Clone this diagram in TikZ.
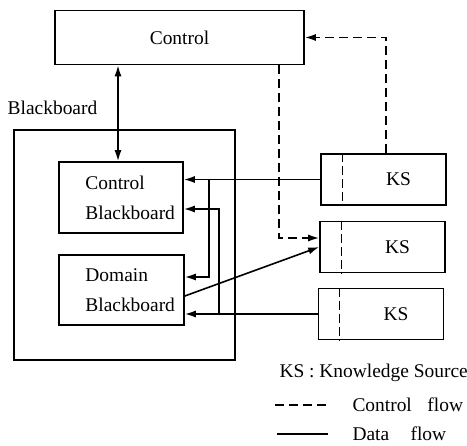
\documentclass[tikz,border=0pt]{standalone}
\usepackage{fontspec}
\setmainfont{Liberation Serif}
\usetikzlibrary{arrows.meta}

\begin{document}
\begin{tikzpicture}[x=1bp, y=-1bp, font=\fontsize{19.5}{30}\selectfont,
    >={Latex[length=11bp, width=7bp]},
    blk/.style={draw, line width=1.6bp, inner sep=0pt},
    data/.style={line width=1.6bp},
    ctrl/.style={line width=1.6bp, dash pattern=on 9bp off 5bp}]

\useasboundingbox (0, 0) rectangle (467, 446);

% control and blackboard boxes
\node [blk, minimum width=249bp, minimum height=54bp] (control) at (179.5, 37.5) {Control};
\node [blk, minimum width=221bp, minimum height=230bp] (bb) at (124.5, 245) {};
\node (bblabel) at (52.5, 108) {Blackboard};
\node [blk, minimum width=124bp, minimum height=71bp] (ctlbb) at (121, 197.5) {};
\node [blk, minimum width=125bp, minimum height=70bp] (dombb) at (121.5, 290) {};
\node [anchor=west, align=left, inner sep=0pt] (ctlbbtext) at ([xshift=27bp]ctlbb.west) {Control\\Blackboard};
\node [anchor=west, align=left, inner sep=0pt] (dombbtext) at ([xshift=27bp]dombb.west) {Domain\\Blackboard};

% knowledge sources
\foreach \n/\x/\y in {1/383.5/179.5, 2/382.5/247, 3/381/314} {
    \node [blk, minimum width=125bp, minimum height=51bp] (ks\n) at (\x, \y) {};
    \node (kslbl\n) at ([xshift=15bp]ks\n.center) {KS};
    \draw [line width=1bp, dash pattern=on 9bp off 4bp] ([xshift=22bp]ks\n.north west) -- ([xshift=22bp]ks\n.south west);
}

% data flow
\coordinate (tap1) at (209, 179.5);
\coordinate (tap2) at (219, 314);
\draw [data, <->] ([xshift=-61.5bp]control.south) -- ([xshift=-3bp]ctlbb.north);
\draw [data, ->] (ks1.west) -- (ks1.west -| ctlbb.east);
\draw [data, ->] (tap1) |- ([yshift=13bp]dombb.east);
\draw [data, ->] (ks3.west) -- (ks3.west -| dombb.east);
\draw [data, ->] (tap2) |- ([yshift=-11.5bp]ctlbb.east);
\draw [data, ->] ([yshift=-6bp]dombb.east) -- (ks2.west);

% control flow
\draw [ctrl, ->] ([xshift=99.5bp]control.south) |- ([yshift=9bp]ks2.west);
\draw [ctrl, ->] ([xshift=2.5bp]ks1.north) |- (control.east);

% key
\node [anchor=west] (kskey) at (276, 373) {KS : Knowledge Source};
\node [anchor=west] (ctrlkey) at (349, 405) {Control\hspace{0.8em}flow};
\node [anchor=west] (datakey) at (349, 434) {Data\hspace{1.1em}flow};
\draw [ctrl] ([xshift=-74bp]ctrlkey.west) -- ([xshift=-21bp]ctrlkey.west);
\draw [data] ([xshift=-72bp]datakey.west) -- ([xshift=-21bp]datakey.west);

\end{tikzpicture}
\end{document}
